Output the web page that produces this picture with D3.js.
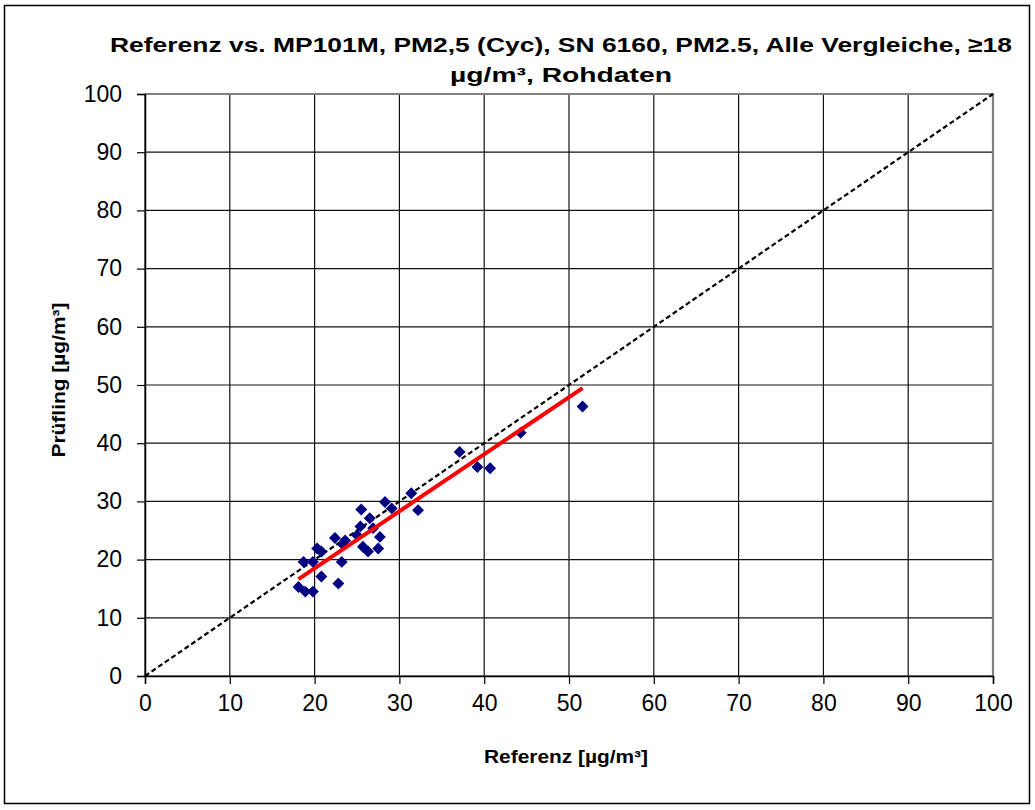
<!DOCTYPE html>
<html>
<head>
<meta charset="utf-8">
<script src="https://cdn.jsdelivr.net/npm/d3@7"></script>
<style>
  html, body { margin: 0; padding: 0; background: #fff; }
  svg { display: block; }
  text { font-family: "Liberation Sans", Arial, sans-serif; fill: #000; }
</style>
</head>
<body>
<svg id="chart" width="1035" height="810"></svg>
<script>
// ---- data ----
const refValues = [51.6, 44.3, 37.1, 39.2, 40.7, 31.4, 32.2, 28.3, 29.1, 25.5, 26.5, 25.4, 26.9,
  27.7, 27.5, 25.7, 26.3, 23.6, 25.0, 22.4, 23.4, 20.3, 20.8, 18.7, 19.8, 23.2, 20.8, 22.8,
  18.1, 18.9, 19.8];
const testValues = [46.3, 41.8, 38.5, 35.9, 35.7, 31.4, 28.5, 29.9, 28.8, 28.6, 27.1, 25.7, 25.4,
  23.9, 21.9, 22.2, 21.4, 23.3, 24.2, 23.7, 22.5, 21.9, 21.4, 19.6, 19.6, 19.6, 17.1, 15.9,
  15.3, 14.5, 14.5];
const fitSlope = 0.98;
const fitIntercept = -1.1;
const xTicks = [0, 10, 20, 30, 40, 50, 60, 70, 80, 90, 100];
const yTicks = [0, 10, 20, 30, 40, 50, 60, 70, 80, 90, 100];
const titleLines = ["Referenz vs. MP101M, PM2,5 (Cyc), SN 6160, PM2.5, Alle Vergleiche, \u226518", "\u00b5g/m\u00b3, Rohdaten"];
const titleWidths = [902, 222];
const xLabel = "Referenz [\u00b5g/m\u00b3]";
const yLabel = "Pr\u00fcfling [\u00b5g/m\u00b3]";

// ---- layout ----
const svg = d3.select("#chart");
const pL = 145, pR = 993, pT = 94, pB = 676;
const x = d3.scaleLinear().domain([0, 100]).range([pL, pR]);
const y = d3.scaleLinear().domain([0, 100]).range([pB, pT]);

// outer frame
svg.append("rect").attr("x", 4.5).attr("y", 5.5).attr("width", 1025).attr("height", 798)
  .attr("fill", "#fff").attr("stroke", "#000").attr("stroke-width", 1.5);

// title
svg.append("g").selectAll("text").data(titleLines).join("text")
  .attr("text-anchor", "middle")
  .style("font-weight", "bold").style("font-size", "21px")
  .attr("x", 561).attr("y", (d, i) => 52 + i * 30)
  .attr("textLength", (d, i) => titleWidths[i]).attr("lengthAdjust", "spacingAndGlyphs")
  .text(d => d);

// gridlines
const grid = svg.append("g");
grid.selectAll("line.v").data(xTicks).join("line").attr("class", "v")
  .attr("x1", d => x(d)).attr("x2", d => x(d)).attr("y1", pT).attr("y2", pB)
  .attr("stroke", "#111").attr("stroke-width", 1.2);
grid.selectAll("line.h").data(yTicks).join("line").attr("class", "h")
  .attr("x1", pL).attr("x2", pR).attr("y1", d => y(d)).attr("y2", d => y(d))
  .attr("stroke", "#111").attr("stroke-width", 1.2);
// plot-area border top/right (gray)
svg.append("path").attr("d", `M${pL},${pT}H${pR}V${pB}`)
  .attr("fill", "none").attr("stroke", "#808080").attr("stroke-width", 2.2);

// axes
const xAxis = svg.append("g").attr("transform", `translate(0,${pB})`)
  .call(d3.axisBottom(x).tickValues(xTicks).tickSize(8).tickPadding(11).tickFormat(d3.format("d")));
const yAxis = svg.append("g").attr("transform", `translate(${pL},0)`)
  .call(d3.axisLeft(y).tickValues(yTicks).tickSize(8).tickPadding(15).tickFormat(d3.format("d")));
[xAxis, yAxis].forEach(a => {
  a.select(".domain").attr("stroke", "#000").attr("stroke-width", 1.5);
  a.selectAll(".tick line").attr("stroke", "#000").attr("stroke-width", 1.2);
  a.selectAll(".tick text").style("font-size", "23px")
    .style("font-family", "'Liberation Sans', Arial, sans-serif").attr("fill", "#111");
});

// axis titles
svg.append("text").attr("x", 566).attr("y", 763).attr("text-anchor", "middle")
  .style("font-weight", "bold").style("font-size", "18px")
  .attr("textLength", 164).attr("lengthAdjust", "spacingAndGlyphs").text(xLabel);
svg.append("text").attr("transform", `translate(65,380) rotate(-90)`).attr("text-anchor", "middle")
  .style("font-weight", "bold").style("font-size", "18px")
  .attr("textLength", 155).attr("lengthAdjust", "spacingAndGlyphs").text(yLabel);

// 1:1 line
svg.append("line").attr("x1", x(0)).attr("y1", y(0)).attr("x2", x(100)).attr("y2", y(100))
  .attr("stroke", "#000").attr("stroke-width", 2.2).attr("stroke-dasharray", "5,3");

// points
const pts = refValues.map((r, i) => [r, testValues[i]]);
svg.append("g").selectAll("path").data(pts).join("path")
  .attr("transform", d => `translate(${x(d[0])},${y(d[1])})`)
  .attr("d", d3.symbol().type(d3.symbolDiamond2).size(90))
  .attr("fill", "#000080");

// regression line
const xMin = d3.min(refValues), xMax = d3.max(refValues);
svg.append("line")
  .attr("x1", x(xMin)).attr("y1", y(fitSlope * xMin + fitIntercept))
  .attr("x2", x(xMax)).attr("y2", y(fitSlope * xMax + fitIntercept))
  .attr("stroke", "#ff0000").attr("stroke-width", 4);
</script>
</body>
</html>
